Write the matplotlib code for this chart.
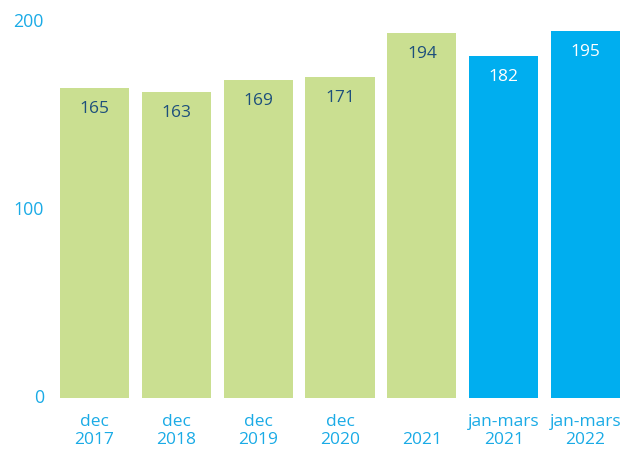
import matplotlib
matplotlib.use('Agg')
import matplotlib.pyplot as plt
import matplotlib.transforms as mtransforms

plt.rcParams['font.family'] = ['Open Sans', 'DejaVu Sans']

# data
categories = ['dec\n2017', 'dec\n2018', 'dec\n2019', 'dec\n2020', '\n2021',
              'jan-mars\n2021', 'jan-mars\n2022']
values = [165, 163, 169, 171, 194, 182, 195]
is_quarter = [False, False, False, False, False, True, True]
y_ticks = [0, 100, 200]

GREEN = '#cadf91'
BLUE = '#00aeef'
LABEL_IN = '#1d4f7c'
AXIS_TXT = '#1aabe6'

fig = plt.figure(figsize=(6.22, 4.5), dpi=100)
ax = fig.add_axes([0, 52 / 450, 1, 376 / 450])

xs = list(range(len(values)))
colors = [BLUE if q else GREEN for q in is_quarter]
ax.bar(xs, values, width=0.845, color=colors)

ax.set_xlim(-1.155, 6.445)
ax.set_ylim(0, 200)
ax.axis('off')

# value labels inside bars
for x, v, q in zip(xs, values, is_quarter):
    off = mtransforms.offset_copy(ax.transData, fig=fig, y=-21, units='dots')
    ax.text(x, v, str(v), transform=off, ha='center', va='center',
            fontsize=12.5, color='white' if q else LABEL_IN)

# y tick labels
ytr = mtransforms.blended_transform_factory(fig.transFigure, ax.transData)
for t in y_ticks:
    ax.text(44 / 622, t, str(t), transform=ytr, ha='right', va='center',
            fontsize=12.8, color=AXIS_TXT)

# x category labels
xtr = mtransforms.blended_transform_factory(ax.transData, fig.transFigure)
for x, lab in zip(xs, categories):
    ax.text(x, 1 - 431 / 450, lab, transform=xtr, ha='center', va='center',
            fontsize=12.5, color=AXIS_TXT, linespacing=1.2)

fig.savefig('out.png', dpi=100, facecolor='white')
